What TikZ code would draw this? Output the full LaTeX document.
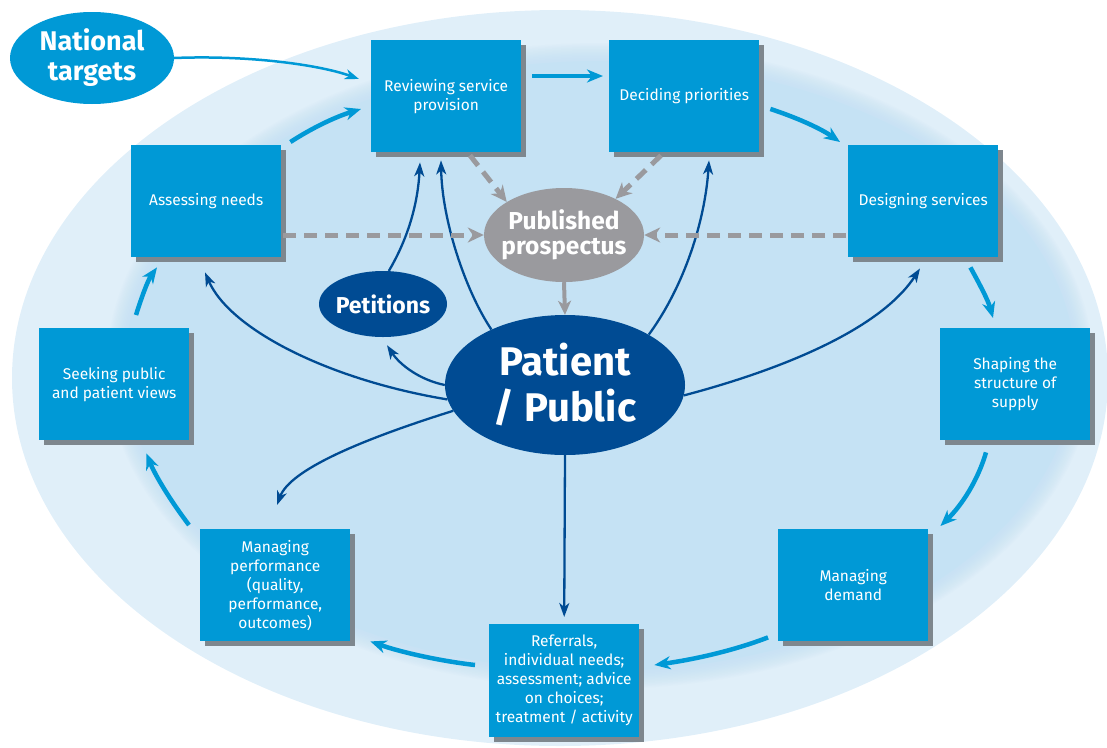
\documentclass[tikz,border=0pt]{standalone}
\usepackage{fontspec}
\setmainfont{Fira Sans}
\usetikzlibrary{arrows.meta,shapes.geometric,shadows,calc}
\definecolor{outerbg}{HTML}{E0EFF9}
\definecolor{innerbg}{HTML}{C5E2F4}
\definecolor{boxblue}{HTML}{0099D6}
\definecolor{darkblue}{HTML}{004B93}
\definecolor{pgray}{HTML}{9A9A9E}
\definecolor{shadowgray}{HTML}{7E878E}
\begin{document}
\begin{tikzpicture}[x=1pt,y=-1pt,
  stagebox/.style={fill=boxblue, minimum width=150pt, minimum height=112pt, inner sep=0pt,
    text=white, align=center, font=\fontsize{15.5}{19}\selectfont, anchor=north west,
    drop shadow={shadow xshift=5pt,shadow yshift=-5pt,fill=shadowgray,opacity=1}},
  cyc/.style={draw=boxblue, line width=4.5pt, -{Stealth[length=16pt,width=13pt,inset=5pt]}},
  thinblue/.style={draw=boxblue, line width=2.5pt, -{Stealth[length=14pt,width=10pt,inset=4pt]}},
  darkarr/.style={draw=darkblue, line width=2.3pt, -{Stealth[length=14pt,width=10pt,inset=4pt]}},
  grayarr/.style={draw=pgray, line width=5pt, dash pattern=on 13pt off 8pt, -{Stealth[length=16pt,width=15pt,inset=5pt]}},
  graysolid/.style={draw=pgray, line width=4pt, -{Stealth[length=14pt,width=13pt,inset=4pt]}},
  bigell/.style={ellipse, inner sep=0pt, text=white, align=center}
]
\useasboundingbox (0,0) rectangle (1107,747);
% background
\fill[outerbg] (560,378) ellipse [x radius=548, y radius=368];
\foreach \i in {12,...,1}{
  \fill[innerbg, opacity=0.1] (600,366) ellipse [x radius={475+1.5*\i}, y radius={305+1.5*\i}];
}
\fill[innerbg] (600,366) ellipse [x radius=475, y radius=305];

% stage boxes
\node[stagebox] (rev) at (371,40) {Reviewing service\\provision};
\node[stagebox] (dec) at (609,40) {Deciding priorities};
\node[stagebox] (ass) at (131,145) {Assessing needs};
\node[stagebox] (des) at (848,145) {Designing services};
\node[stagebox] (seek) at (39,328) {Seeking public\\and patient views};
\node[stagebox] (shape) at (940,328) {Shaping the\\structure of\\supply};
\node[stagebox] (mperf) at (200,529) {Managing\\performance\\(quality,\\performance,\\outcomes)};
\node[stagebox] (mdem) at (778,529) {Managing\\demand};
\node[stagebox, minimum height=113pt] (ref) at (489,624) {Referrals,\\individual needs;\\assessment; advice\\on choices;\\treatment / activity};

% ellipses
\node[bigell, fill=boxblue, minimum width=164pt, minimum height=92pt, inner xsep=-12pt,
  font=\bfseries\fontsize{27}{30}\selectfont] (nt) at (92,58) {National\\targets};
\node[bigell, fill=pgray, minimum width=160pt, minimum height=94pt, inner xsep=-22pt, inner ysep=-8pt,
  font=\bfseries\fontsize{24.5}{25}\selectfont] (pub) at (564,235) {Published\\prospectus};
\node[bigell, fill=darkblue, minimum width=128pt, minimum height=66pt, inner xsep=-10pt,
  font=\bfseries\fontsize{23}{24}\selectfont] (pet) at (383,304) {Petitions};
\node[bigell, fill=darkblue, minimum width=240pt, minimum height=140pt, inner xsep=-10pt,
  font=\bfseries\fontsize{40}{46}\selectfont] (pat) at (565,385) {Patient\\/ Public};

% cycle arrows
\draw[cyc] ([shift={(11,36)}]rev.north east) -- ([shift={(-6,36)}]dec.north west);
\draw[cyc] ([shift={(11,69)}]dec.north east) .. controls (795,117) and (820,128) .. ([shift={(-8,-3)}]des.north west);
\draw[cyc] ([shift={(-28,10)}]des.south east) .. controls (980,285) and (988,300) .. ([shift={(53,-10)}]shape.north west);
\draw[cyc] ([shift={(46,12)}]shape.south west) .. controls (978,480) and (962,505) .. ([shift={(12,-3)}]mdem.north east);
\draw[cyc] ([shift={(-10,-4)}]mdem.south west) .. controls (730,652) and (690,660) .. ([shift={(15,41)}]ref.north east);
\draw[cyc] ([shift={(-14,41)}]ref.north west) .. controls (440,661) and (400,652) .. ([shift={(20,0)}]mperf.south east);
\draw[cyc] ([shift={(-11,-4)}]mperf.north west) .. controls (170,500) and (155,475) .. ([shift={(-43,13)}]seek.south east);
\draw[cyc] ([shift={(97,-13)}]seek.north west) .. controls (142,296) and (148,280) .. ([shift={(26,10)}]ass.south west);
\draw[cyc] ([shift={(9,-3)}]ass.north east) .. controls (312,128) and (335,117) .. ([shift={(-10,69)}]rev.north west);
\draw[thinblue] (nt.east) .. controls (250,55) and (320,65) .. ([shift={(-12,39)}]rev.north west);

% dark arrows from patient
\draw[darkarr] (pat.143) .. controls (465,290) and (442,220) .. ([shift={(70,8)}]rev.south west);
\draw[darkarr] (pet.80) .. controls (410,235) and (418,200) .. ([shift={(49,10)}]rev.south west);
\draw[darkarr] (pat.31) .. controls (685,285) and (705,220) .. ([shift={(100,8)}]dec.south west);
\draw[darkarr] (pat.187) .. controls (330,380) and (230,330) .. ([shift={(74,15)}]ass.south west);
\draw[darkarr] (pat.180) .. controls (420,380) and (400,365) .. ([shift={(4,8)}]pet.south);
\draw[darkarr] (pat.355) .. controls (780,370) and (880,330) .. ([shift={(72,11)}]des.south west);
\draw[darkarr] (pat.193) .. controls (360,440) and (290,470) .. ([shift={(77,-24)}]mperf.north west);
\draw[darkarr] (pat.south) -- ([shift={(0,-7)}]ref.north);

% gray arrows
\draw[grayarr] ([shift={(99,3)}]rev.south west) -- (pub.150);
\draw[grayarr] ([shift={(52,3)}]dec.south west) -- (pub.35);
\draw[grayarr] ([shift={(2,90)}]ass.north east) -- (pub.west);
\draw[grayarr] ([shift={(-2,90)}]des.north west) -- (pub.east);
\draw[graysolid] (pub.south) -- (pat.north);
\end{tikzpicture}
\end{document}
